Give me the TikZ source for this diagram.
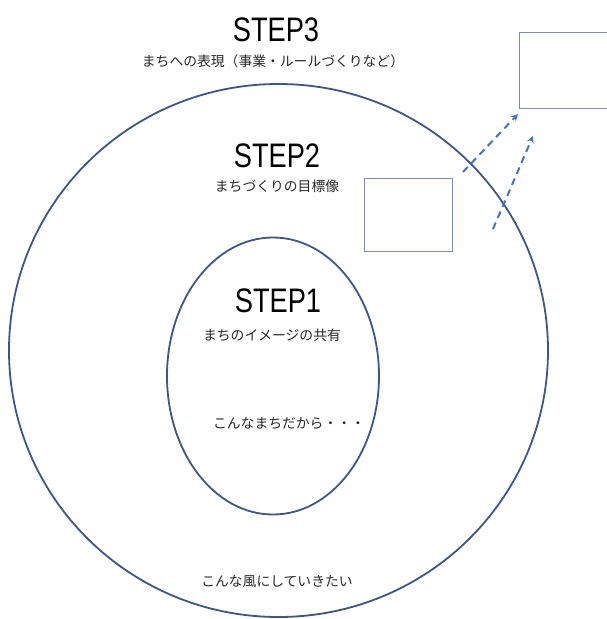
\documentclass[tikz,border=0pt]{standalone}
\usepackage{fontspec}
\usetikzlibrary{shapes.geometric,arrows.meta}
\newfontfamily\jpfont{Noto Sans CJK JP}
\newfontfamily\stepfont[FakeStretch=0.8]{Liberation Sans}
\definecolor{ringblue}{RGB}{62,86,135}
\definecolor{boxblue}{RGB}{125,140,175}
\definecolor{arrowblue}{RGB}{72,114,190}
\definecolor{txtgray}{RGB}{40,40,40}
\begin{document}
\begin{tikzpicture}[x=1pt,y=-1pt,
  ring/.style={draw=ringblue,line width=1.8pt,ellipse,inner sep=0pt},
  frame/.style={draw=boxblue,line width=1.2pt,inner sep=0pt,anchor=north west},
  steptitle/.style={font=\stepfont\fontsize{34}{34}\selectfont,text=black,inner sep=0pt},
  jptext/.style={font=\jpfont\fontsize{13.8}{13.8}\selectfont,text=txtgray,inner sep=0pt},
  dasharrow/.style={draw=arrowblue,line width=2pt,dash pattern=on 7pt off 5pt,
    -{Stealth[length=7pt,width=7pt,inset=2.5pt]}}]
\useasboundingbox (0,0) rectangle (606,619);
% rings
\node[ring,minimum width=539pt,minimum height=533pt] (outer) at (278.5,350.5) {};
\node[ring,minimum width=212pt,minimum height=277pt] (inner) at (273,376) {};
% boxes
\node[frame,minimum width=88pt,minimum height=73pt] (box2) at (364,178) {};
\node[frame,minimum width=100pt,minimum height=76pt] (box3) at (519,32) {};
% arrows
\coordinate (a1s) at (463,172);
\coordinate (a1e) at (518,114);
\coordinate (a2s) at (493,229);
\coordinate (a2e) at (533,136);
\draw[dasharrow] (a1s) -- (a1e);
\draw[dasharrow] (a2s) -- (a2e);
% texts
\node[steptitle] (s3) at (276,30) {STEP3};
\node[jptext] (t3) at (273,61) {まちへの表現（事業・ルールづくりなど）};
\node[steptitle] (s2) at (277,156) {STEP2};
\node[jptext] (t2) at (277,186) {まちづくりの目標像};
\node[steptitle] (s1) at (278,301) {STEP1};
\node[jptext] (t1) at (272,335) {まちのイメージの共有};
\node[jptext] (c1) at (289,423) {こんなまちだから・・・};
\node[jptext] (c2) at (277,582) {こんな風にしていきたい};
\end{tikzpicture}
\end{document}
